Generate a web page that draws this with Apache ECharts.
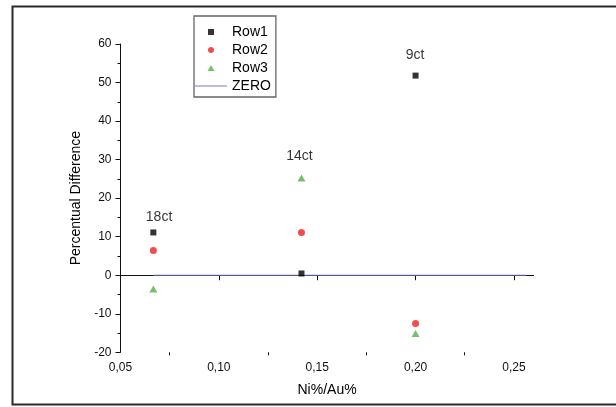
<!DOCTYPE html>
<html>
<head>
<meta charset="utf-8">
<script src="https://cdn.jsdelivr.net/npm/echarts@6/dist/echarts.min.js"></script>
<style>html,body{margin:0;padding:0;background:#fff}#c{width:616px;height:407px}</style>
</head>
<body>
<div id="c"></div>
<script>
// ---- data ----
const xValues = [0.0667, 0.142, 0.200];
const row1 = [11.1, 0.45, 51.8];
const row2 = [6.4, 11.1, -12.5];
const row3 = [-3.55, 25.25, -15.1];
const zeroX = [0.0667, 0.2563];
const zeroY = [0, 0];
const annoText = ['18ct', '14ct', '9ct'];
const annoX = [0.0696, 0.141, 0.1997];
const annoY = [15.05, 30.95, 57.1];
const xMajorTicks = [0.05, 0.10, 0.15, 0.20, 0.25];
const xMinorTicks = [0.075, 0.125, 0.175, 0.225];
const seriesNames = ['Row1', 'Row2', 'Row3', 'ZERO'];
const xTitle = 'Ni%/Au%';
const yTitle = 'Percentual Difference';

// ---- chart ----
const FONT = "'Liberation Sans', Arial, sans-serif";
const pair = (xs, ys) => xs.map((x, i) => [x, ys[i]]);
const chart = echarts.init(document.getElementById('c'), null, {renderer: 'canvas'});
const gridTop = 44, gridBottom = 54.7;
const gridH = 407 - gridTop - gridBottom;

chart.setOption({
  animation: false,
  backgroundColor: '#fff',
  textStyle: {fontFamily: FONT},
  graphic: [{
    type: 'rect', silent: true, z: -10,
    shape: {x: 12.5, y: 6.5, width: 620, height: 398},
    style: {fill: 'none', stroke: '#2a2a2a', lineWidth: 2}
  }],
  grid: {left: 120.5, right: 82.4, top: gridTop, bottom: gridBottom},
  legend: {
    left: 194, top: 16, orient: 'vertical',
    padding: [9, 5, 4, 1],
    itemWidth: 32, itemHeight: 6, itemGap: 4,
    borderColor: '#666', borderWidth: 1.3,
    textStyle: {fontSize: 14, color: '#000', fontFamily: FONT},
    data: [
      {name: seriesNames[0], icon: 'path://M0,0H6V6H0Z'},
      {name: seriesNames[1], icon: 'circle'},
      {name: seriesNames[2], icon: 'path://M4,0L8,7H0Z'},
      {name: seriesNames[3], icon: 'path://M0,0H32V1.3H0Z'}
    ]
  },
  xAxis: [{
    type: 'value', min: 0.05, max: 0.26, position: 'bottom',
    name: xTitle, nameLocation: 'middle', nameGap: 31,
    nameTextStyle: {fontSize: 14, color: '#000', fontFamily: FONT},
    axisLine: {lineStyle: {color: '#111', width: 1}},
    axisTick: {customValues: xMajorTicks, length: 5, lineStyle: {color: '#111'}},
    axisLabel: {customValues: xMajorTicks, margin: 9, fontSize: 12, color: '#111',
      formatter: v => v.toFixed(2).replace('.', ',')},
    splitLine: {show: false}
  }, {
    type: 'value', min: 0.05, max: 0.26, position: 'top', offset: -gridH,
    axisLine: {show: false},
    axisTick: {customValues: xMinorTicks, inside: true, length: 3, lineStyle: {color: '#111'}},
    axisLabel: {show: false},
    splitLine: {show: false}
  }],
  yAxis: {
    type: 'value', min: -20, max: 60, interval: 10,
    name: yTitle, nameLocation: 'middle', nameGap: 33,
    nameTextStyle: {fontSize: 14, color: '#000', fontFamily: FONT},
    axisLine: {show: true, lineStyle: {color: '#111', width: 1}},
    axisTick: {show: true, length: 5, lineStyle: {color: '#111'}},
    minorTick: {show: true, splitNumber: 2, length: 3, lineStyle: {color: '#111'}},
    axisLabel: {margin: 9, fontSize: 12, color: '#111'},
    splitLine: {show: false}
  },
  series: [{
    name: seriesNames[3], type: 'line', data: pair(zeroX, zeroY),
    symbol: 'none', lineStyle: {color: '#6f6fc2', width: 1.2}, itemStyle: {color: '#9a9ad4'}, z: 1
  }, {
    name: seriesNames[0], type: 'scatter', data: pair(xValues, row1),
    symbol: 'rect', symbolSize: 6, itemStyle: {color: '#000'}, z: 3
  }, {
    name: seriesNames[1], type: 'scatter', data: pair(xValues, row2),
    symbol: 'circle', symbolSize: 7, itemStyle: {color: '#ef2020'}, z: 3
  }, {
    name: seriesNames[2], type: 'scatter', data: pair(xValues, row3),
    symbol: 'triangle', symbolSize: [8, 7], itemStyle: {color: '#55b046'}, z: 3
  }, {
    name: 'labels', type: 'scatter', silent: true,
    data: annoX.map((x, i) => ({value: [x, annoY[i]], name: annoText[i]})),
    symbolSize: 1, itemStyle: {color: 'rgba(0,0,0,0)'},
    label: {show: true, position: 'inside', formatter: p => p.name,
      fontSize: 14, color: '#000', fontFamily: FONT}
  }]
});
</script>
</body>
</html>
